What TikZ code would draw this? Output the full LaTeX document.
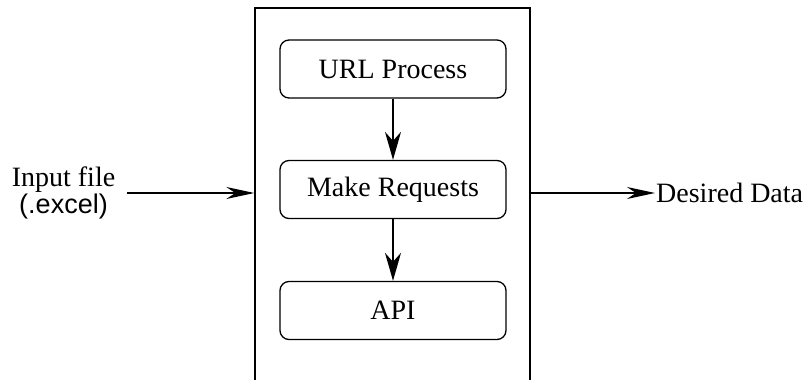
\documentclass[tikz,border=0pt]{standalone}
\usepackage{fontspec}
\setmainfont{Liberation Serif}
\newfontfamily\sanslabel{Liberation Sans}
\usetikzlibrary{arrows.meta}
\begin{document}
\begin{tikzpicture}[x=1pt,y=1pt,
  font=\fontsize{28}{24}\selectfont,
  frame/.style={draw, line width=1.4pt, minimum width=275pt, minimum height=392pt, inner sep=0pt},
  stepbox/.style={draw, line width=1.3pt, rounded corners=9pt, minimum width=226pt, minimum height=58pt, inner sep=0pt},
  vflow/.style={line width=1.3pt, -{Stealth[length=28pt, width=16pt, inset=9pt]}},
  hflow/.style={line width=1.3pt, -{Stealth[length=28pt, width=12pt, inset=9pt]}}]
\useasboundingbox (0,0) rectangle (807,380);
\clip (0,0) rectangle (807,380);

% system frame, open below the page edge
\node[frame] (sys) at (392.5,176) {};

% processing steps
\node[stepbox] (url) at (393,311) {URL Process};
\node[stepbox] (req) at (393,190.5) {Make Requests};
\node[stepbox] (api) at (393,69.5) {API};

\draw[vflow] (url.south) -- (req.north);
\draw[vflow] (req.south) -- (api.north);

% input and output
\node[align=center, inner xsep=12pt, inner ysep=0pt] (in) at (63.5,187)
  {Input file\\{\sanslabel\fontsize{27}{24}\selectfont (.excel)}};
\node[anchor=west, inner sep=1pt] (out) at (655,187) {Desired Data};

\draw[hflow] (in.east) -- (in.east -| sys.west);
\draw[hflow] (sys.east |- out.west) -- (out.west);
\end{tikzpicture}
\end{document}
